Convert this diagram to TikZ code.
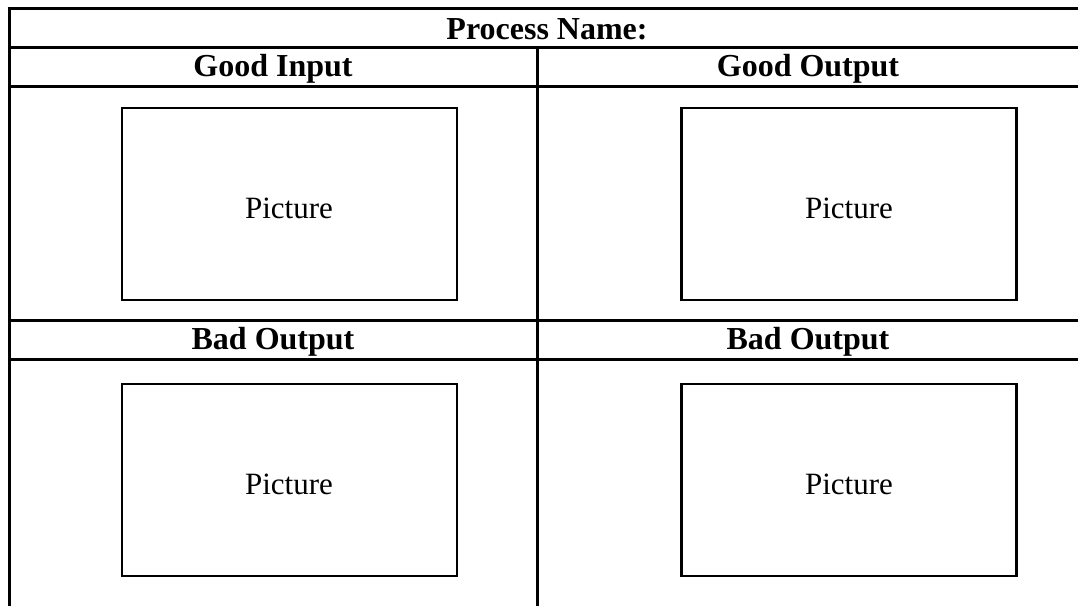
\documentclass[tikz,border=0pt]{standalone}
\usepackage{fontspec}
\setmainfont{Liberation Serif}
\begin{document}
\begin{tikzpicture}[x=1pt,y=-1pt,
  rule/.style={line width=3pt,black},
  picbox/.style={draw,line width=2.2pt,minimum width=335pt,minimum height=192pt,inner sep=0pt},
  headtext/.style={font=\fontsize{32}{38}\selectfont\bfseries,anchor=base,inner sep=0pt},
  pictext/.style={font=\fontsize{31}{37}\selectfont,anchor=base,inner sep=0pt}]
\useasboundingbox (0,0) rectangle (1078,606);
% table rules
\coordinate (tl) at (9,8);
\coordinate (tr) at (1078,8);
\coordinate (bl) at (9,606);
\coordinate (h1l) at (9,47);   \coordinate (h1r) at (1078,47);
\coordinate (h2l) at (9,86);   \coordinate (h2r) at (1078,86);
\coordinate (h3l) at (9,320);  \coordinate (h3r) at (1078,320);
\coordinate (h4l) at (9,359);  \coordinate (h4r) at (1078,359);
\coordinate (mt) at (537,47);  \coordinate (mb) at (537,606);
\draw[rule] ([xshift=-1.5pt]tl) -- (tr);
\draw[rule] (tl) -- (bl);
\draw[rule] (h1l) -- (h1r);
\draw[rule] (h2l) -- (h2r);
\draw[rule] (h3l) -- (h3r);
\draw[rule] (h4l) -- (h4r);
\draw[rule] (mt) -- (mb);
% headers
\node[headtext] (title) at (547,39) {Process Name:};
\node[headtext] (gi) at (273,76) {Good Input};
\node[headtext] (go) at (808,76) {Good Output};
\node[headtext] (bo1) at (273,349) {Bad Output};
\node[headtext] (bo2) at (808,349) {Bad Output};
% picture boxes
\node[picbox] (b1) at (289.5,204) {};
\node[picbox] (b2) at (849,204) {};
\node[picbox] (b3) at (289.5,480) {};
\node[picbox] (b4) at (849,480) {};
\node[pictext] (t1) at (289,218) {Picture};
\node[pictext] (t2) at (849,218) {Picture};
\node[pictext] (t3) at (289,494) {Picture};
\node[pictext] (t4) at (849,494) {Picture};
\end{tikzpicture}
\end{document}
